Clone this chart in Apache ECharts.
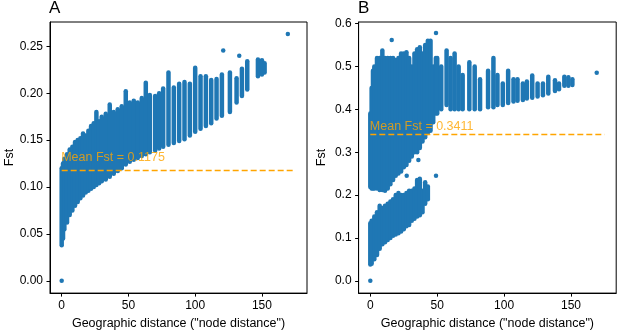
<!DOCTYPE html>
<html>
<head>
<meta charset="utf-8">
<script src="https://cdn.jsdelivr.net/npm/echarts@6/dist/echarts.min.js"></script>
<style>
  html, body { margin: 0; padding: 0; background: #fff; }
  #chart { width: 617px; height: 335px; }
</style>
</head>
<body>
<div id="chart"></div>
<script>
const BLUE = '#1f77b4'
const ORANGE = '#ffa500'
const FONT = '"Liberation Sans", Arial, sans-serif'

// Panel A: each node distance has a column of Fst values (low..high)
const aDist = [0, 1, 2, 4, 6, 8, 10, 12, 14, 16, 18, 20, 22, 24, 26, 28, 30, 33, 36, 39, 42, 45, 48, 51, 54, 57, 60, 63, 66, 70, 73, 76, 80, 84, 88, 92, 96, 100, 104, 108, 112, 116, 120, 126, 131, 135, 139, 147, 150, 152]
const aLow = [0.038, 0.045, 0.055, 0.062, 0.070, 0.075, 0.080, 0.084, 0.088, 0.091, 0.094, 0.096, 0.098, 0.100, 0.102, 0.104, 0.106, 0.108, 0.111, 0.114, 0.117, 0.120, 0.124, 0.127, 0.129, 0.131, 0.133, 0.135, 0.137, 0.139, 0.141, 0.143, 0.145, 0.147, 0.149, 0.151, 0.155, 0.159, 0.162, 0.165, 0.168, 0.173, 0.176, 0.180, 0.190, 0.197, 0.204, 0.218, 0.220, 0.222]
const aHigh = [0.120, 0.125, 0.130, 0.135, 0.140, 0.143, 0.148, 0.150, 0.152, 0.157, 0.155, 0.160, 0.165, 0.168, 0.180, 0.170, 0.175, 0.178, 0.188, 0.180, 0.183, 0.186, 0.202, 0.190, 0.192, 0.190, 0.195, 0.211, 0.198, 0.197, 0.200, 0.205, 0.222, 0.206, 0.210, 0.212, 0.210, 0.227, 0.218, 0.218, 0.214, 0.215, 0.220, 0.222, 0.216, 0.226, 0.234, 0.236, 0.235, 0.232]
const aLoneX = [0, 121, 133, 169.4]
const aLoneY = [0, 0.2456, 0.240, 0.263]
const aMean = 0.1175

// Panel B: upper cloud, lower cloud, isolated points
const bDist = [0, 1, 2, 3, 5, 7, 9, 11, 13, 15, 17, 19, 21, 23, 25, 27, 29, 31, 33, 35, 37, 39, 41, 43, 45, 47, 49, 50, 53, 57, 60, 63, 66, 69, 74, 78, 82, 88, 92, 95, 99, 103, 107, 110, 114, 117, 121, 125, 129, 133, 138, 141, 145, 148, 151]
const bLow = [0.219, 0.215, 0.215, 0.215, 0.215, 0.212, 0.212, 0.210, 0.215, 0.225, 0.235, 0.245, 0.250, 0.255, 0.265, 0.270, 0.280, 0.290, 0.300, 0.300, 0.310, 0.325, 0.335, 0.345, 0.350, 0.370, 0.390, 0.390, 0.400, 0.410, 0.400, 0.400, 0.400, 0.400, 0.400, 0.400, 0.400, 0.405, 0.405, 0.410, 0.410, 0.415, 0.418, 0.420, 0.422, 0.425, 0.427, 0.430, 0.433, 0.437, 0.443, 0.447, 0.455, 0.455, 0.457]
const bHigh = [0.390, 0.450, 0.490, 0.500, 0.520, 0.520, 0.537, 0.520, 0.520, 0.520, 0.520, 0.515, 0.520, 0.530, 0.530, 0.533, 0.520, 0.500, 0.530, 0.540, 0.545, 0.530, 0.550, 0.560, 0.560, 0.500, 0.520, 0.520, 0.500, 0.537, 0.520, 0.530, 0.500, 0.480, 0.510, 0.500, 0.470, 0.490, 0.520, 0.480, 0.460, 0.490, 0.470, 0.470, 0.460, 0.465, 0.479, 0.460, 0.460, 0.476, 0.468, 0.460, 0.476, 0.475, 0.470]
const bSubDist = [0, 1, 3, 5, 7, 9, 11, 13, 15, 17, 19, 21, 23, 25, 27, 29, 31, 33, 35, 37, 39, 41, 43]
const bSubLow = [0.038, 0.040, 0.050, 0.060, 0.075, 0.085, 0.090, 0.095, 0.100, 0.105, 0.108, 0.111, 0.115, 0.120, 0.127, 0.130, 0.140, 0.145, 0.150, 0.153, 0.160, 0.180, 0.190]
const bSubHigh = [0.134, 0.140, 0.150, 0.160, 0.175, 0.170, 0.175, 0.180, 0.185, 0.190, 0.200, 0.205, 0.200, 0.200, 0.205, 0.210, 0.210, 0.215, 0.235, 0.238, 0.210, 0.230, 0.220]
const bLoneX = [0, 16, 49.1, 49.1, 27.2, 35.9, 169.2]
const bLoneY = [0, 0.562, 0.578, 0.245, 0.245, 0.282, 0.4856]
const bMean = 0.3411

const xTicks = [0, 50, 100, 150]
const aTicks = [0, 0.05, 0.1, 0.15, 0.2, 0.25]
const bTicks = [0, 0.1, 0.2, 0.3, 0.4, 0.5, 0.6]

const chart = echarts.init(document.getElementById('chart'))

const columns = (idx, dist, low, high) => ({
  type: 'custom',
  xAxisIndex: idx,
  yAxisIndex: idx,
  data: dist.map((d, i) => [d, low[i], high[i]]),
  renderItem: (params, api) => {
    const p1 = api.coord([api.value(0), api.value(1)])
    const p2 = api.coord([api.value(0), api.value(2)])
    return {
      type: 'line',
      shape: { x1: p1[0], y1: p1[1], x2: p2[0], y2: p2[1] },
      style: { stroke: BLUE, lineWidth: 4.5, lineCap: 'round' },
    }
  },
  z: 2,
})

const lone = (idx, xs, ys) => ({
  type: 'scatter',
  xAxisIndex: idx,
  yAxisIndex: idx,
  symbolSize: 4.5,
  itemStyle: { color: BLUE, opacity: 1 },
  data: xs.map((x, i) => [x, ys[i]]),
  z: 2,
})

const meanLine = (idx, mean) => ({
  type: 'line',
  xAxisIndex: idx,
  yAxisIndex: idx,
  symbol: 'none',
  data: [[0, mean], [175, mean]],
  lineStyle: { color: ORANGE, width: 1.5, type: [6, 3] },
  z: 5,
})

const meanText = (idx, mean) => ({
  type: 'scatter',
  xAxisIndex: idx,
  yAxisIndex: idx,
  symbolSize: 0,
  data: [[0, mean + 0.01]],
  label: {
    show: true,
    position: [0, 0],
    align: 'left',
    verticalAlign: 'bottom',
    offset: [-0.5, 3],
    formatter: 'Mean Fst = ' + mean,
    color: ORANGE,
    fontSize: 12.5,
    fontFamily: FONT,
  },
  z: 6,
})

const xAxis = (idx) => ({
  type: 'value',
  gridIndex: idx,
  min: -8.75,
  max: 183.75,
  name: 'Geographic distance ("node distance")',
  nameLocation: 'middle',
  nameGap: 21,
  nameTextStyle: { color: '#000', fontSize: 12.5, fontFamily: FONT },
  axisLine: { show: true, onZero: false, lineStyle: { color: '#000', width: 1 } },
  axisTick: { show: true, length: 3.5, customValues: xTicks, lineStyle: { color: '#000' } },
  axisLabel: { customValues: xTicks, color: '#000', fontSize: 12, fontFamily: FONT, margin: 7 },
  splitLine: { show: false },
})

const yAxis = (idx, min, max, ticks, digits, gap) => ({
  type: 'value',
  gridIndex: idx,
  min,
  max,
  name: 'Fst',
  nameLocation: 'middle',
  nameGap: gap,
  nameTextStyle: { color: '#000', fontSize: 12.5, fontFamily: FONT },
  axisLine: { show: true, onZero: false, lineStyle: { color: '#000', width: 1 } },
  axisTick: { show: true, length: 3.5, customValues: ticks, lineStyle: { color: '#000' } },
  axisLabel: { customValues: ticks, color: '#000', fontSize: 12, fontFamily: FONT, margin: 7, formatter: (v) => v.toFixed(digits) },
  splitLine: { show: false },
})

chart.setOption({
  animation: false,
  title: [
    { text: 'A', left: 49, top: 0, padding: 0, textStyle: { fontSize: 17, fontWeight: 'normal', color: '#000', fontFamily: FONT } },
    { text: 'B', left: 358, top: 0, padding: 0, textStyle: { fontSize: 17, fontWeight: 'normal', color: '#000', fontFamily: FONT } },
  ],
  grid: [
    { left: 50, top: 22, width: 257, height: 275, show: true, borderColor: '#000', borderWidth: 1 },
    { left: 358.6, top: 22, width: 257.6, height: 275, show: true, borderColor: '#000', borderWidth: 1 },
  ],
  xAxis: [xAxis(0), xAxis(1)],
  yAxis: [
    yAxis(0, -0.01314, 0.2759, aTicks, 2, 32),
    yAxis(1, -0.02875, 0.60375, bTicks, 1, 31),
  ],
  series: [
    columns(0, aDist, aLow, aHigh),
    lone(0, aLoneX, aLoneY),
    meanLine(0, aMean),
    meanText(0, aMean),
    columns(1, bDist, bLow, bHigh),
    columns(1, bSubDist, bSubLow, bSubHigh),
    lone(1, bLoneX, bLoneY),
    meanLine(1, bMean),
    meanText(1, bMean),
  ],
})
</script>
</body>
</html>
